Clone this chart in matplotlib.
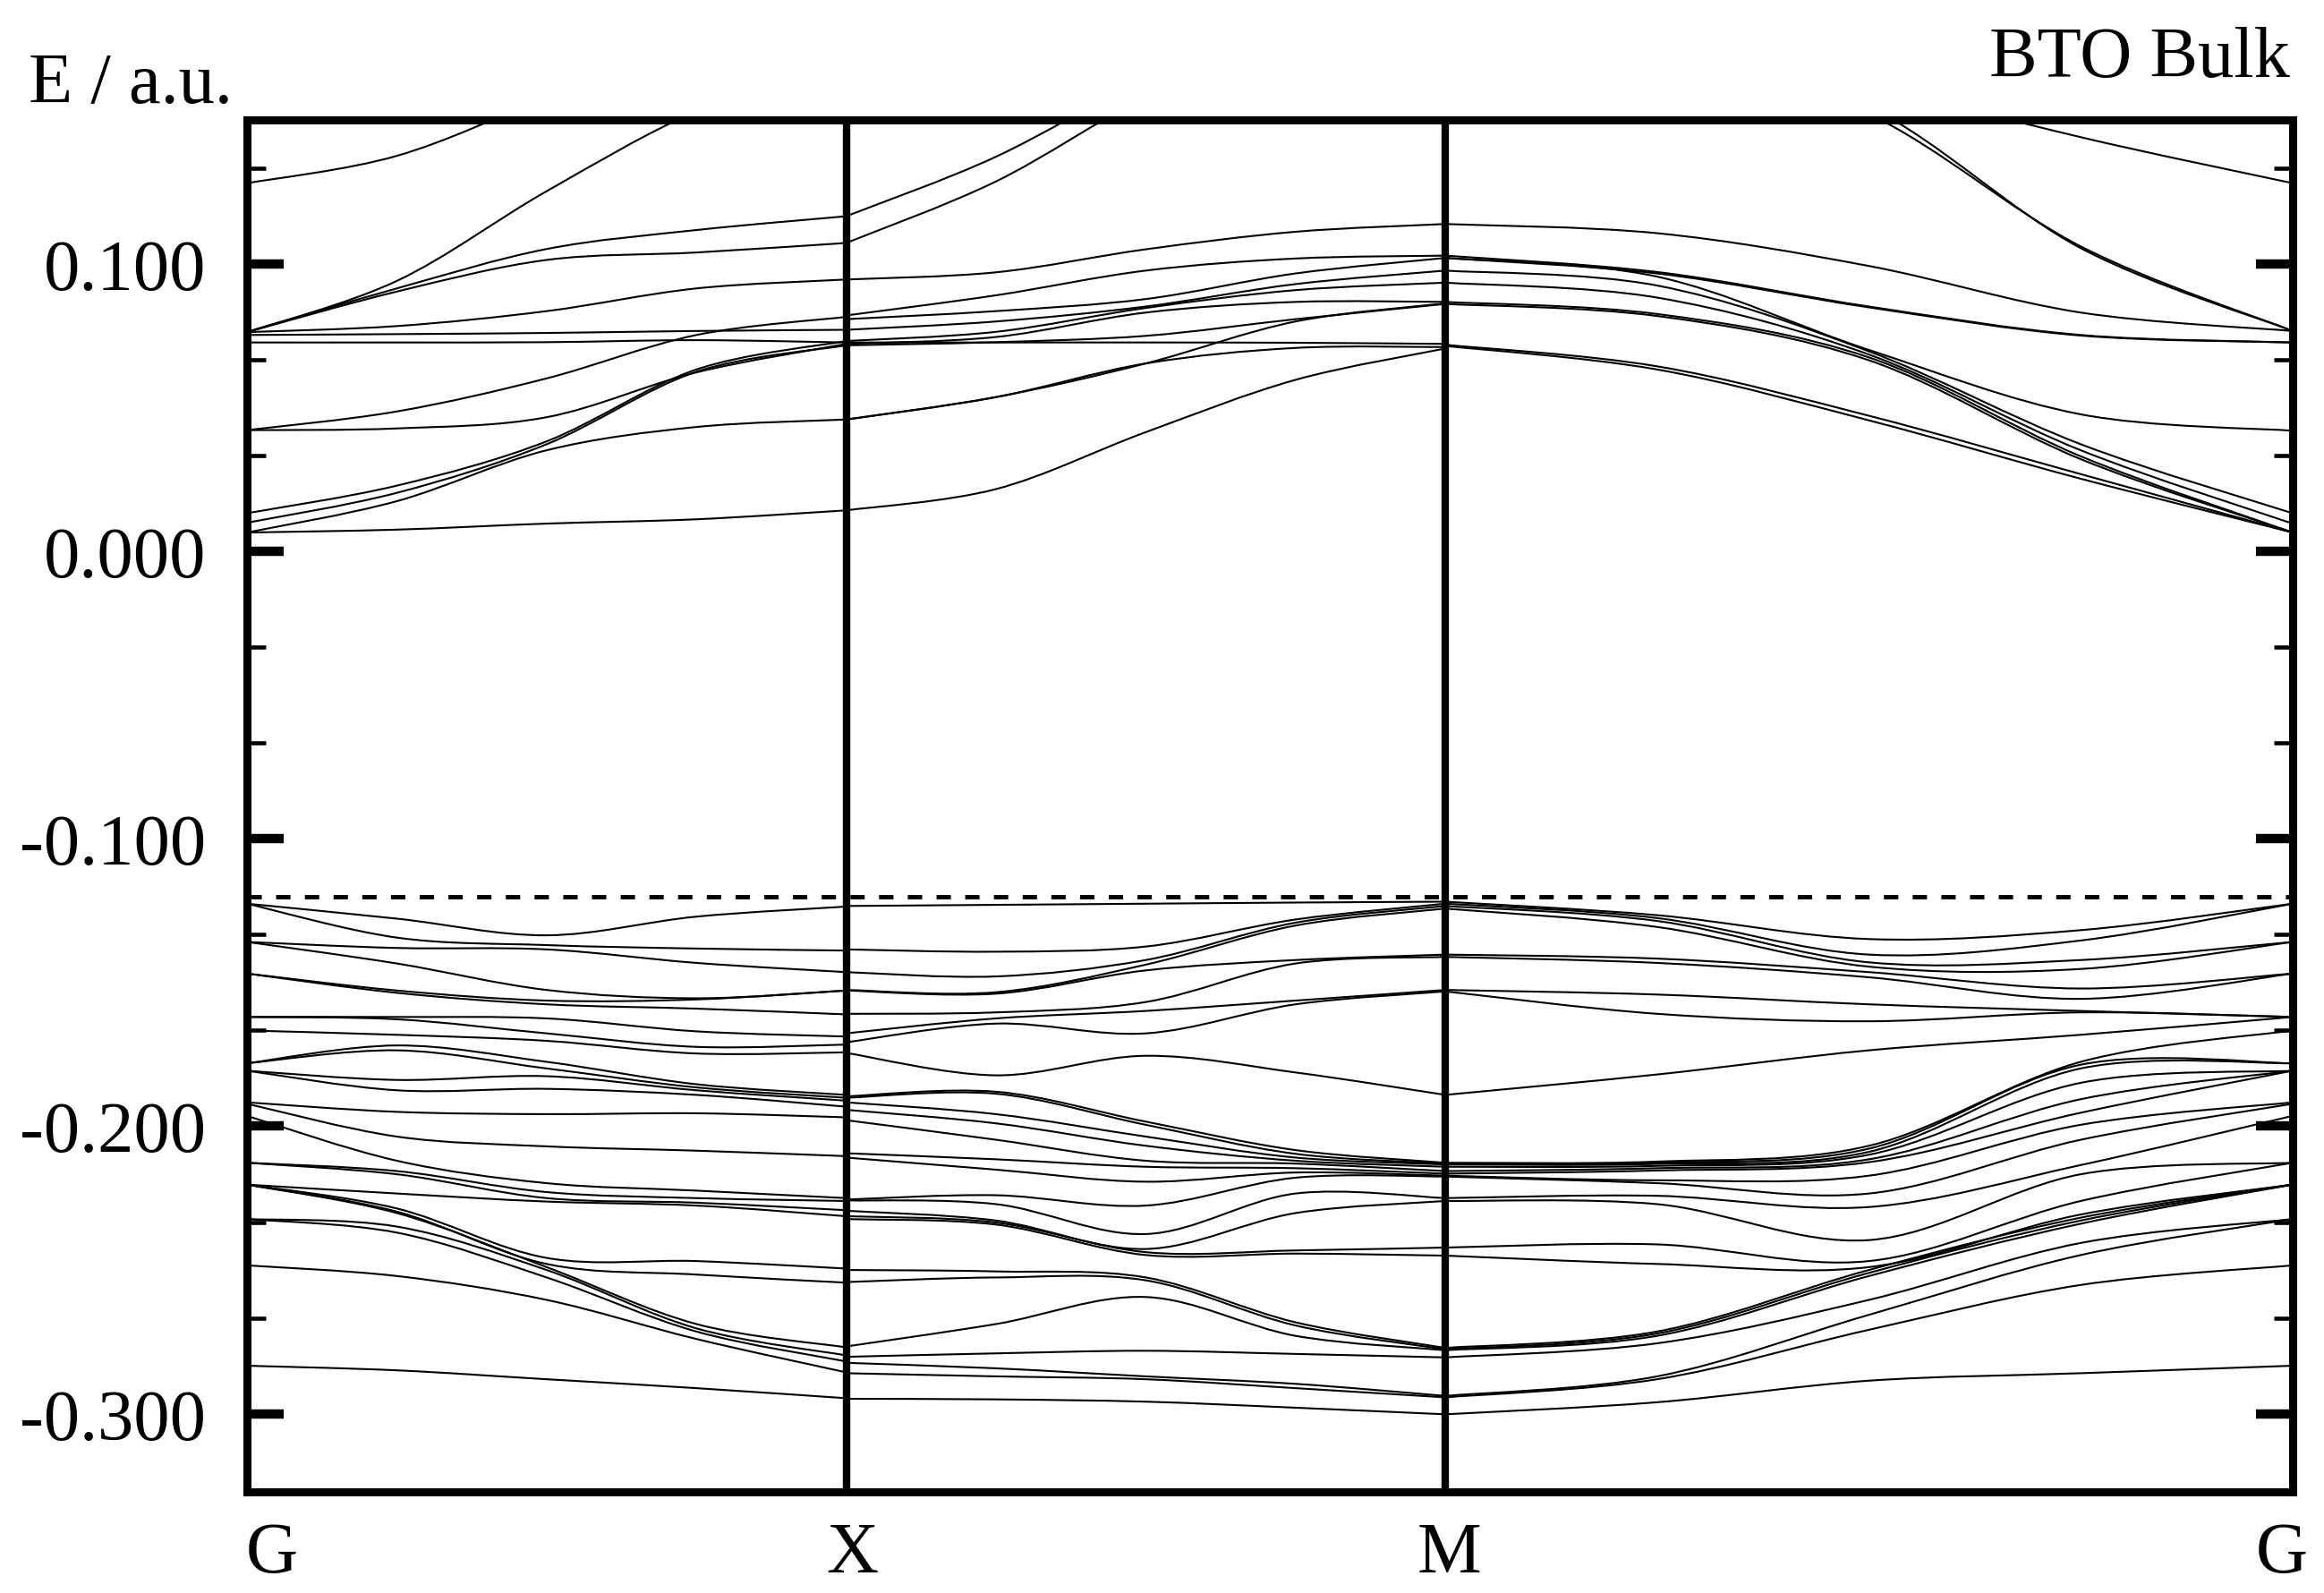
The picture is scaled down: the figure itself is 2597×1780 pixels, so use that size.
import numpy as np
import matplotlib
matplotlib.use("Agg")
import matplotlib.pyplot as plt
from matplotlib.path import Path
from matplotlib.patches import PathPatch
from matplotlib.ticker import MultipleLocator

plt.rcParams['font.family'] = ['Liberation Serif', 'DejaVu Serif']
plt.rcParams['axes.unicode_minus'] = False

# high symmetry points, path length along G-X-M-G
K_LABELS = ["G", "X", "M", "G"]
K_POS = [0.0, 1.0, 2.0, 2.0 + np.sqrt(2.0)]

# each band is sampled at 0, 1/4, 1/2, 3/4, 1 of a segment
SEG_FRAC = [0.0, 0.25, 0.5, 0.75, 1.0]

E_FERMI = -0.1203
YTICKS = [-0.3, -0.2, -0.1, 0.0, 0.1]

# ---- conduction bands (one row per band) ----
GX_COND = [
    [0.1280, 0.1375, 0.1580, 0.1800, 0.2000],
    [0.0762, 0.0940, 0.1252, 0.1530, 0.1700],
    [0.0762, 0.0914, 0.1051, 0.1117, 0.1165],
    [0.0762, 0.0903, 0.1013, 0.1039, 0.1072],
    [0.0762, 0.0783, 0.0835, 0.0914, 0.0945],
    [0.0752, 0.0755, 0.0759, 0.0766, 0.0770],
    [0.0726, 0.0726, 0.0727, 0.0734, 0.0726],
    [0.0421, 0.0486, 0.0601, 0.0752, 0.0815],
    [0.0421, 0.0427, 0.0466, 0.0622, 0.0721],
    [0.0132, 0.0228, 0.0382, 0.0632, 0.0731],
    [0.0099, 0.0203, 0.0372, 0.0624, 0.0716],
    [0.0065, 0.0174, 0.0351, 0.0432, 0.0458],
    [0.0065, 0.0075, 0.0096, 0.0111, 0.0142],
]

XM_COND = [
    [0.1165, 0.1372, 0.1650, 0.1900, 0.2100],
    [0.1072, 0.1286, 0.1580, 0.1800, 0.2000],
    [0.0945, 0.0970, 0.1050, 0.1111, 0.1138],
    [0.0820, 0.0890, 0.0976, 0.1018, 0.1028],
    [0.0807, 0.0835, 0.0877, 0.0966, 0.1020],
    [0.0770, 0.0799, 0.0851, 0.0929, 0.0976],
    [0.0731, 0.0763, 0.0846, 0.0908, 0.0934],
    [0.0721, 0.0745, 0.0830, 0.0867, 0.0867],
    [0.0726, 0.0726, 0.0726, 0.0725, 0.0721],
    [0.0716, 0.0727, 0.0749, 0.0807, 0.0860],
    [0.0458, 0.0536, 0.0653, 0.0707, 0.0710],
    [0.0458, 0.0536, 0.0653, 0.0799, 0.0862],
    [0.0142, 0.0216, 0.0414, 0.0596, 0.0705],
]

MG_COND = [
    [0.2100, 0.1850, 0.1630, 0.1440, 0.1280],
    [0.2000, 0.1750, 0.1520, 0.1060, 0.0766],
    [0.2000, 0.1760, 0.1545, 0.1054, 0.0766],
    [0.1138, 0.1106, 0.0992, 0.0830, 0.0766],
    [0.1028, 0.0971, 0.0851, 0.0752, 0.0726],
    [0.1020, 0.0966, 0.0848, 0.0750, 0.0726],
    [0.1020, 0.0955, 0.0700, 0.0476, 0.0419],
    [0.0976, 0.0924, 0.0695, 0.0372, 0.0132],
    [0.0934, 0.0882, 0.0684, 0.0351, 0.0096],
    [0.0867, 0.0825, 0.0674, 0.0330, 0.0065],
    [0.0860, 0.0818, 0.0664, 0.0320, 0.0065],
    [0.0718, 0.0643, 0.0471, 0.0268, 0.0065],
    [0.0714, 0.0632, 0.0455, 0.0252, 0.0065],
]

# ---- valence bands: energies read at each sample column, joined in order ----
GX_VAL = [
    [-0.1226, -0.1226, -0.1359, -0.1359, -0.1469, -0.1469, -0.1620, -0.1620, -0.1667,
     -0.1781, -0.1781, -0.1807, -0.1807, -0.1917, -0.1922, -0.1964, -0.2127, -0.2127,
     -0.2203, -0.2203, -0.2203, -0.2203, -0.2323, -0.2323, -0.2484, -0.2833],
    [-0.1278, -0.1344, -0.1380, -0.1434, -0.1528, -0.1536, -0.1620, -0.1628, -0.1682,
     -0.1719, -0.1736, -0.1839, -0.1875, -0.1950, -0.2036, -0.2120, -0.2156, -0.2167,
     -0.2234, -0.2286, -0.2297, -0.2302, -0.2349, -0.2370, -0.2521, -0.2849],
    [-0.1336, -0.1370, -0.1385, -0.1526, -0.1563, -0.1576, -0.1625, -0.1677, -0.1703,
     -0.1776, -0.1799, -0.1826, -0.1870, -0.1958, -0.2070, -0.2198, -0.2229, -0.2250,
     -0.2262, -0.2458, -0.2479, -0.2490, -0.2500, -0.2526, -0.2604, -0.2880],
    [-0.1271, -0.1382, -0.1432, -0.1555, -0.1559, -0.1591, -0.1670, -0.1724, -0.1747,
     -0.1854, -0.1865, -0.1875, -0.1891, -0.1955, -0.2085, -0.2224, -0.2250, -0.2266,
     -0.2276, -0.2469, -0.2516, -0.2688, -0.2703, -0.2714, -0.2740, -0.2911],
    [-0.1236, -0.1389, -0.1464, -0.1528, -0.1528, -0.1611, -0.1688, -0.1716, -0.1743,
     -0.1891, -0.1901, -0.1911, -0.1932, -0.1969, -0.2104, -0.2250, -0.2260, -0.2292,
     -0.2313, -0.2495, -0.2544, -0.2769, -0.2797, -0.2818, -0.2856, -0.2946],
]

XM_VAL = [
    [-0.1234, -0.1385, -0.1464, -0.1526, -0.1528, -0.1609, -0.1677, -0.1708, -0.1745,
     -0.1896, -0.1901, -0.1917, -0.1943, -0.1979, -0.2094, -0.2109, -0.2255, -0.2258,
     -0.2294, -0.2313, -0.2323, -0.2500, -0.2542, -0.2766, -0.2802, -0.2823, -0.2859,
     -0.2948],
    [-0.1230, -0.1393, -0.1479, -0.1534, -0.1539, -0.1604, -0.1625, -0.1643, -0.1823,
     -0.1880, -0.1887, -0.1958, -0.1990, -0.2047, -0.2115, -0.2151, -0.2240, -0.2271,
     -0.2328, -0.2335, -0.2342, -0.2505, -0.2526, -0.2688, -0.2790, -0.2842, -0.2870,
     -0.2950],
    [-0.1226, -0.1375, -0.1422, -0.1438, -0.1458, -0.1568, -0.1599, -0.1677, -0.1755,
     -0.1984, -0.1995, -0.2036, -0.2068, -0.2120, -0.2141, -0.2193, -0.2276, -0.2375,
     -0.2427, -0.2438, -0.2448, -0.2526, -0.2536, -0.2594, -0.2781, -0.2870, -0.2880,
     -0.2958],
    [-0.1222, -0.1281, -0.1292, -0.1302, -0.1422, -0.1434, -0.1563, -0.1576, -0.1813,
     -0.2083, -0.2096, -0.2109, -0.2120, -0.2130, -0.2146, -0.2161, -0.2179, -0.2234,
     -0.2302, -0.2432, -0.2443, -0.2682, -0.2693, -0.2729, -0.2792, -0.2896, -0.2911,
     -0.2979],
    [-0.1219, -0.1226, -0.1234, -0.1243, -0.1403, -0.1411, -0.1526, -0.1531, -0.1891,
     -0.2127, -0.2130, -0.2133, -0.2141, -0.2156, -0.2165, -0.2172, -0.2175, -0.2250,
     -0.2260, -0.2422, -0.2450, -0.2771, -0.2776, -0.2779, -0.2804, -0.2938, -0.2943,
     -0.3002],
]

MG_VAL = [
    [-0.1219, -0.1226, -0.1234, -0.1243, -0.1403, -0.1411, -0.1526, -0.1531, -0.1891,
     -0.2127, -0.2130, -0.2133, -0.2141, -0.2156, -0.2165, -0.2172, -0.2175, -0.2250,
     -0.2260, -0.2422, -0.2450, -0.2771, -0.2776, -0.2779, -0.2804, -0.2938, -0.2943,
     -0.3002],
    [-0.1266, -0.1276, -0.1286, -0.1307, -0.1417, -0.1432, -0.1542, -0.1609, -0.1820,
     -0.2123, -0.2127, -0.2131, -0.2138, -0.2146, -0.2154, -0.2188, -0.2198, -0.2242,
     -0.2271, -0.2411, -0.2479, -0.2714, -0.2721, -0.2729, -0.2755, -0.2870, -0.2880,
     -0.2960],
    [-0.1349, -0.1403, -0.1430, -0.1445, -0.1464, -0.1482, -0.1576, -0.1635, -0.1736,
     -0.2068, -0.2078, -0.2089, -0.2099, -0.2115, -0.2125, -0.2172, -0.2234, -0.2281,
     -0.2396, -0.2469, -0.2490, -0.2500, -0.2510, -0.2521, -0.2604, -0.2656, -0.2708,
     -0.2885],
    [-0.1318, -0.1354, -0.1422, -0.1453, -0.1521, -0.1557, -0.1599, -0.1604, -0.1682,
     -0.1776, -0.1786, -0.1799, -0.1849, -0.1906, -0.1953, -0.1995, -0.2047, -0.2135,
     -0.2167, -0.2260, -0.2307, -0.2318, -0.2328, -0.2339, -0.2406, -0.2448, -0.2552,
     -0.2859],
    [-0.1226, -0.1226, -0.1359, -0.1359, -0.1469, -0.1469, -0.1620, -0.1620, -0.1620,
     -0.1667, -0.1781, -0.1781, -0.1807, -0.1807, -0.1807, -0.1917, -0.1922, -0.1964,
     -0.2127, -0.2127, -0.2203, -0.2203, -0.2203, -0.2203, -0.2323, -0.2323, -0.2484,
     -0.2833],
]


def smooth_path(x, y):
    """cubic bezier path through the sample points (catmull-rom tangents)"""
    pts = np.column_stack([x, y])
    n = len(pts)
    verts = [pts[0]]
    codes = [Path.MOVETO]
    for i in range(n - 1):
        p0 = pts[i - 1] if i > 0 else pts[i]
        p1 = pts[i]
        p2 = pts[i + 1]
        p3 = pts[i + 2] if i + 2 < n else pts[i + 1]
        verts += [p1 + (p2 - p0) / 6.0, p2 - (p3 - p1) / 6.0, p2]
        codes += [Path.CURVE4] * 3
    return Path(verts, codes)


def draw_band(ax, x, y):
    patch = PathPatch(smooth_path(x, y), facecolor='none', edgecolor='black',
                      lw=1.5, capstyle='round', joinstyle='round', zorder=2)
    ax.add_patch(patch)


fig = plt.figure(figsize=(25.97, 17.81), dpi=100)
ax = fig.add_axes([0.1063, 0.0634, 0.8802, 0.8608])

segments = [(GX_COND, GX_VAL), (XM_COND, XM_VAL), (MG_COND, MG_VAL)]
for i, (cond, val) in enumerate(segments):
    k0, k1 = K_POS[i], K_POS[i + 1]
    x = k0 + np.array(SEG_FRAC) * (k1 - k0)
    for band in cond:
        draw_band(ax, x, band)
    cols = np.sort(np.array(val), axis=1)
    for j in range(cols.shape[1]):
        draw_band(ax, x, cols[:, j])

# vertical lines at X and M
for k in K_POS[1:-1]:
    ax.axvline(k, color='black', lw=6, zorder=3)

# top of the valence band
ax.axhline(E_FERMI, color='black', lw=3.5, linestyle=(0, (3.3, 3.3)), zorder=4)

ax.set_xlim(K_POS[0], K_POS[-1])
ax.set_ylim(-0.3272, 0.15)

for sp in ax.spines.values():
    sp.set_linewidth(6.5)

ax.set_yticks(YTICKS)
ax.set_yticklabels([f"{v:.3f}" for v in YTICKS])
ax.yaxis.set_minor_locator(MultipleLocator(0.1 / 3))
ax.tick_params(axis='y', which='major', direction='in', length=29.5, width=7.5,
               left=True, right=True, labelsize=58, pad=33)
ax.tick_params(axis='y', which='minor', direction='in', length=15, width=3.3,
               left=True, right=True)
ax.set_xticks([])

# k-point labels under the axis
for lab, kx, dx in zip(K_LABELS, K_POS, [20, 5, 3, -9]):
    ax.annotate(lab, xy=(kx, 0), xycoords=('data', 'axes fraction'),
                xytext=(dx, -24), textcoords='offset points',
                ha='center', va='top', fontsize=58, annotation_clip=False)

fig.text(32 / 2597, 1 - 115 / 1781, "E / a.u.", ha='left', va='baseline', fontsize=58)
fig.text(2559 / 2597, 1 - 86 / 1781, "BTO Bulk", ha='right', va='baseline', fontsize=58)

fig.savefig("out.png", dpi=100, facecolor='white')
